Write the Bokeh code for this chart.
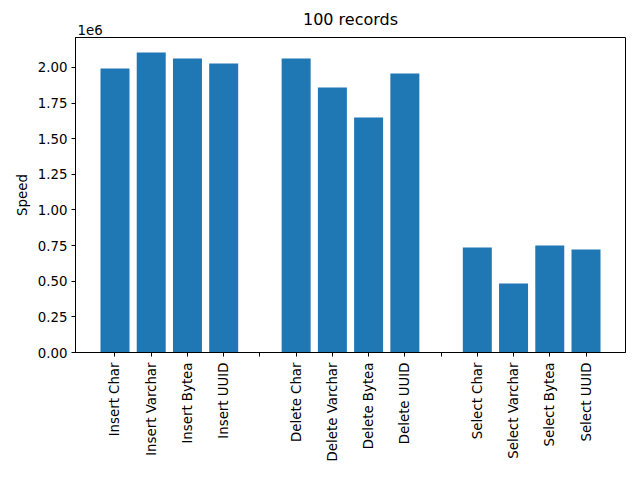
import math
from bokeh.plotting import figure
from bokeh.models import FixedTicker, Range1d, Title
from bokeh.embed import file_html
from bokeh.resources import INLINE

categories = ["Insert Char", "Insert Varchar", "Insert Bytea", "Insert UUID", "",
              "Delete Char", "Delete Varchar", "Delete Bytea", "Delete UUID", "",
              "Select Char", "Select Varchar", "Select Bytea", "Select UUID"]
speeds = [1.993e6, 2.105e6, 2.063e6, 2.028e6, 0.0,
          2.063e6, 1.860e6, 1.649e6, 1.958e6, 0.0,
          0.737e6, 0.484e6, 0.751e6, 0.723e6]
y_ticks = [0, 250000, 500000, 750000, 1000000, 1250000, 1500000, 1750000, 2000000]
y_tick_labels = ["0.00", "0.25", "0.50", "0.75", "1.00", "1.25", "1.50", "1.75", "2.00"]

xs = list(range(len(categories)))
bx = [x for x, c in zip(xs, categories) if c]
bt = [s for s, c in zip(speeds, categories) if c]

FONT = "DejaVu Sans"
ymax = max(speeds) * 1.05

p = figure(width=640, height=480, output_backend="svg", toolbar_location=None,
           x_range=Range1d(-0.4 - 0.69, 13.4 + 0.69), y_range=Range1d(0, ymax),
           min_border_left=75, min_border_right=15, min_border_top=37, min_border_bottom=128)
p.vbar(x=bx, top=bt, width=0.8, color="#1f77b4", line_color=None)

# chart title (outer)
p.title.text = "100 records"
p.title.align = "center"
p.title.standoff = -16
p.title.text_font = FONT
p.title.text_font_size = "12pt"
p.title.text_font_style = "normal"
p.title.text_color = "black"

# offset text of the y axis (inner, next to the frame)
p.add_layout(Title(text="1e6", align="left", offset=2, standoff=5, text_font=FONT,
                   text_font_size="10pt", text_font_style="normal", text_color="black"), "above")

p.xgrid.visible = False
p.ygrid.visible = False
p.outline_line_color = "black"
p.outline_line_width = 1

p.xaxis.ticker = FixedTicker(ticks=xs)
p.xaxis.major_label_overrides = {i: c for i, c in enumerate(categories)}
p.xaxis.major_label_orientation = math.pi / 2
p.yaxis.ticker = FixedTicker(ticks=y_ticks)
p.yaxis.major_label_overrides = {t: l for t, l in zip(y_ticks, y_tick_labels)}
p.yaxis.axis_label = "Speed"
for ax in (p.xaxis[0], p.yaxis[0]):
    ax.major_label_text_font = FONT
    ax.major_label_text_font_size = "10pt"
    ax.major_label_text_color = "black"
    ax.axis_label_text_font = FONT
    ax.axis_label_text_font_size = "10pt"
    ax.axis_label_text_font_style = "normal"
    ax.axis_label_text_color = "black"
    ax.axis_line_color = "black"
    ax.major_tick_line_color = "black"
    ax.major_tick_out = 4
    ax.major_tick_in = 0
    ax.minor_tick_line_color = None
    ax.major_label_standoff = 4
p.xaxis.major_label_standoff = 6

open("out.html", "w").write(file_html(p, INLINE))
